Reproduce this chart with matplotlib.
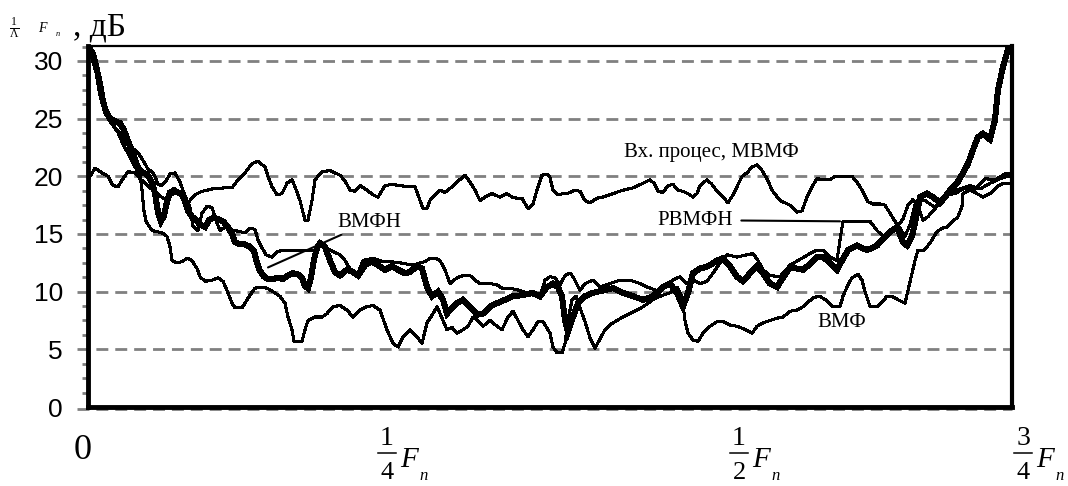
import numpy as np
import matplotlib
matplotlib.use("Agg")
import matplotlib.pyplot as plt
from matplotlib.transforms import blended_transform_factory

plt.rcParams['mathtext.fontset'] = 'custom'
plt.rcParams['mathtext.rm'] = 'Liberation Serif'
plt.rcParams['mathtext.it'] = 'Liberation Serif:italic'

# frequency bins (0 .. 924 across the shown band) and spectra, dB
# thick curve
t_bin = [0, 4, 7, 10, 12, 15, 18, 22, 27, 32, 36, 39, 42, 45, 48, 51, 55, 59, 62, 65, 67, 70, 73, 76,
         79, 82, 86, 90, 94, 97, 100, 104, 108, 112, 117, 121, 125, 130, 135, 140, 144, 147, 152, 157,
         162, 166, 169, 172, 176, 180, 185, 190, 195, 200, 205, 210, 214, 217, 220, 223, 226, 229, 232,
         237, 242, 247, 252, 259, 265, 270, 277, 284, 290, 297, 304, 310, 317, 322, 329, 334, 339, 344,
         350, 355, 359, 364, 369, 375, 382, 389, 395, 402, 409, 417, 425, 435, 445, 452, 459, 465, 470,
         474, 477, 480, 485, 490, 497, 505, 515, 525, 535, 545, 555, 565, 575, 582, 589, 595, 600, 605,
         612, 620, 629, 635, 642, 649, 655, 662, 669, 675, 682, 689, 695, 702, 709, 715, 722, 729, 735,
         742, 749, 754, 760, 769, 779, 789, 795, 802, 809, 815, 819, 824, 829, 832, 839, 845, 852, 857,
         862, 869, 875, 880, 885, 890, 895, 902, 907, 910, 915, 920, 924]
t_db = [31.2, 30.8, 30.0, 28.8, 28.0, 26.5, 25.6, 25.0, 24.8, 24.6, 24.0, 23.3, 22.6, 22.0, 21.2, 20.6,
        20.3, 20.2, 19.8, 19.2, 18.5, 16.9, 16.1, 16.6, 17.8, 18.6, 18.8, 18.6, 18.5, 17.8, 17.0, 16.5,
        16.2, 15.8, 15.6, 16.2, 16.4, 16.3, 16.1, 15.6, 15.0, 14.3, 14.1, 14.1, 13.9, 13.5, 12.5, 11.8,
        11.3, 11.1, 11.1, 11.2, 11.1, 11.4, 11.6, 11.5, 11.2, 10.5, 10.3, 11.2, 12.8, 13.8, 14.2, 13.9,
        12.7, 11.7, 11.4, 11.9, 11.7, 11.4, 12.3, 12.6, 12.3, 11.9, 12.2, 11.9, 11.6, 11.7, 12.2, 12.0,
        10.4, 9.6, 10.0, 9.3, 8.1, 8.6, 9.0, 9.3, 8.7, 8.0, 8.1, 8.7, 9.0, 9.3, 9.6, 9.7, 9.9, 9.6, 10.4,
        10.7, 10.4, 9.6, 7.5, 6.5, 7.8, 9.0, 9.6, 9.9, 10.1, 10.3, 9.9, 9.6, 9.3, 9.6, 10.4, 10.7, 9.9,
        8.7, 9.9, 11.6, 12.0, 12.2, 12.7, 12.9, 12.2, 11.3, 10.9, 11.6, 12.2, 11.6, 10.7, 10.4, 11.2,
        12.1, 12.0, 11.9, 12.4, 13.0, 13.0, 12.5, 11.9, 12.7, 13.6, 14.0, 13.6, 14.0, 14.6, 15.2, 15.6,
        14.3, 14.0, 14.8, 16.8, 18.2, 18.5, 18.2, 17.7, 18.2, 18.8, 19.4, 20.3, 21.1, 22.3, 23.4, 23.7,
        23.2, 24.9, 27.5, 29.5, 31.0, 31.3]

# "Вх. процес, МВМФ"
f_bin = [0, 7, 14, 20, 25, 30, 35, 40, 47, 52, 57, 62, 67, 72, 77, 82, 87, 92, 97, 100, 107, 114, 124,
         137, 144, 150, 157, 164, 170, 177, 180, 184, 189, 194, 199, 204, 207, 212, 217, 220, 224, 227,
         234, 242, 252, 257, 262, 267, 272, 279, 285, 290, 297, 304, 312, 319, 327, 332, 335, 339, 342,
         347, 352, 357, 364, 369, 377, 382, 387, 392, 397, 404, 412, 419, 424, 429, 434, 440, 445, 449,
         454, 459, 462, 465, 470, 475, 479, 487, 492, 497, 502, 509, 515, 525, 535, 545, 555, 562, 566,
         570, 575, 580, 585, 590, 595, 600, 605, 609, 612, 619, 624, 629, 635, 640, 645, 649, 654, 659,
         664, 669, 674, 679, 684, 692, 702, 709, 714, 719, 724, 729, 735, 742, 747, 752, 764, 769, 774,
         780, 785, 792, 797, 802, 807, 812, 817, 822, 827, 832, 837, 847, 857, 867, 877, 887, 897, 907,
         917, 924]
f_db = [19.7, 20.7, 20.3, 20.0, 19.2, 19.1, 19.8, 20.4, 20.3, 19.8, 19.4, 19.0, 18.7, 18.3, 18.0, 18.3,
        18.6, 18.4, 18.0, 17.7, 18.4, 18.7, 18.9, 19.0, 19.0, 19.7, 20.3, 21.1, 21.3, 20.8, 20.0, 19.1,
        18.4, 18.5, 19.4, 19.7, 19.1, 17.9, 16.2, 16.2, 17.9, 19.7, 20.4, 20.5, 20.1, 19.6, 18.8, 18.7,
        19.2, 18.8, 18.4, 18.2, 19.2, 19.3, 19.2, 19.1, 19.1, 17.9, 17.2, 17.2, 17.9, 18.4, 18.8, 18.6,
        19.1, 19.5, 20.1, 19.5, 18.8, 17.9, 18.2, 18.5, 18.2, 18.5, 18.2, 18.1, 18.1, 17.2, 17.6, 18.8,
        20.1, 20.2, 19.9, 18.8, 18.4, 18.5, 18.5, 18.8, 18.7, 17.9, 17.7, 18.1, 18.2, 18.5, 18.8, 19.0,
        19.4, 19.7, 19.4, 18.7, 18.6, 19.2, 19.3, 18.8, 18.7, 18.5, 18.2, 18.5, 19.2, 19.7, 19.3, 18.7,
        18.2, 17.7, 18.4, 19.1, 20.0, 20.3, 20.8, 21.0, 20.5, 19.8, 18.8, 17.9, 17.5, 16.9, 17.0, 18.2,
        19.1, 19.8, 19.7, 19.7, 20.0, 20.0, 20.0, 19.5, 18.8, 17.8, 17.6, 17.6, 17.5, 16.8, 16.1, 15.5,
        14.8, 15.8, 17.5, 17.9, 17.9, 17.3, 18.4, 18.5, 19.0, 18.9, 19.8, 19.7, 20.2, 20.3]

# ВМФН
m_bin = [0, 4, 8, 12, 16, 20, 24, 27, 32, 37, 42, 47, 52, 57, 60, 64, 67, 70, 74, 78, 82, 87, 92, 97,
         102, 105, 110, 114, 119, 124, 128, 132, 137, 142, 147, 152, 157, 162, 167, 170, 174, 178, 184,
         190, 197, 212, 227, 232, 242, 252, 257, 262, 267, 270, 275, 285, 295, 302, 312, 325, 332, 337,
         342, 347, 352, 357, 362, 369, 375, 382, 387, 392, 402, 409, 414, 422, 432, 439, 445, 452, 457,
         462, 467, 472, 477, 482, 485, 492, 497, 505, 512, 522, 532, 542, 552, 559, 569, 579, 585, 592,
         599, 605, 612, 619, 625, 632, 639, 649, 659, 665, 670, 675, 682, 692, 702, 712, 722, 729, 735,
         742, 749, 752, 755, 762, 772, 782, 789, 795, 802, 809, 815, 820, 825, 830, 835, 840, 847, 854,
         862, 872, 882, 892, 902, 912, 924]
m_db = [31.0, 30.5, 29.5, 27.5, 26.2, 25.4, 24.6, 24.2, 23.8, 23.0, 22.5, 22.3, 21.8, 21.1, 20.6, 20.4,
        20.0, 19.3, 19.2, 19.6, 20.2, 20.3, 19.5, 18.3, 17.3, 15.7, 15.3, 16.8, 17.4, 17.3, 16.2, 15.3,
        15.6, 15.4, 15.3, 15.2, 15.1, 15.5, 15.4, 14.5, 13.8, 13.2, 13.0, 13.5, 13.6, 13.6, 13.6, 14.3,
        13.6, 13.2, 12.7, 12.0, 11.4, 11.6, 12.7, 12.9, 12.6, 12.6, 12.5, 12.3, 12.5, 12.6, 12.9, 12.9,
        12.7, 11.9, 10.7, 11.2, 11.4, 11.4, 11.0, 10.7, 10.7, 10.6, 10.3, 10.3, 10.1, 9.9, 9.7, 9.6, 11.0,
        11.3, 11.2, 10.6, 11.4, 11.6, 11.3, 10.1, 10.7, 11.0, 10.4, 10.7, 11.0, 11.0, 10.7, 10.4, 10.1,
        10.7, 11.0, 11.3, 10.7, 11.0, 10.7, 10.9, 11.6, 12.5, 13.2, 13.0, 13.2, 13.3, 12.7, 11.9, 11.4,
        11.3, 12.3, 12.8, 13.3, 13.6, 13.6, 13.0, 12.7, 14.5, 16.1, 16.1, 16.1, 16.1, 15.3, 14.8, 15.1,
        15.6, 16.3, 17.5, 18.0, 17.4, 16.2, 16.5, 17.2, 18.0, 18.6, 18.9, 19.2, 18.9, 19.4, 19.8, 20.1]

# ВМФ
l_bin = [0, 4, 8, 12, 16, 20, 25, 30, 34, 38, 42, 47, 52, 54, 56, 58, 64, 74, 79, 82, 84, 89, 94, 99,
         104, 109, 112, 117, 124, 130, 135, 140, 144, 147, 154, 157, 162, 167, 172, 179, 185, 192, 197,
         200, 204, 206, 214, 217, 220, 227, 234, 239, 245, 252, 259, 265, 272, 279, 285, 292, 299, 305,
         310, 315, 322, 329, 334, 339, 345, 349, 354, 359, 364, 369, 375, 380, 385, 390, 395, 402, 409,
         414, 420, 425, 430, 435, 440, 445, 450, 455, 462, 465, 469, 474, 477, 480, 484, 488, 492, 497,
         502, 507, 512, 517, 523, 529, 535, 542, 549, 555, 565, 572, 582, 589, 594, 597, 600, 605, 610,
         615, 622, 629, 635, 642, 649, 655, 664, 669, 675, 682, 689, 695, 702, 709, 715, 720, 726, 732,
         739, 745, 752, 755, 760, 764, 770, 774, 777, 782, 789, 794, 799, 804, 810, 817, 820, 824, 827,
         830, 836, 842, 849, 854, 859, 865, 870, 874, 875, 882, 889, 895, 902, 909, 915, 924]
l_db = [31.0, 30.2, 29.0, 27.0, 25.8, 25.0, 24.4, 23.8, 23.0, 22.3, 21.7, 20.8, 20.2, 18.8, 17.0, 16.1,
        15.3, 15.1, 14.8, 13.9, 12.7, 12.5, 12.6, 12.9, 12.7, 12.0, 11.3, 10.9, 11.0, 11.2, 10.9, 9.9,
        9.0, 8.6, 8.6, 9.0, 9.7, 10.3, 10.4, 10.3, 10.0, 9.6, 9.0, 7.8, 6.7, 5.7, 5.7, 6.7, 7.5, 7.8,
        7.8, 8.1, 8.7, 8.8, 8.4, 7.8, 8.4, 8.7, 8.8, 8.4, 6.7, 5.5, 5.2, 6.1, 6.7, 6.1, 5.5, 7.3, 8.1,
        8.7, 7.7, 6.7, 6.9, 6.4, 6.7, 7.0, 7.8, 7.5, 7.0, 7.5, 7.0, 6.7, 7.8, 8.3, 7.5, 6.7, 6.1, 6.7,
        7.4, 7.4, 6.4, 5.2, 4.7, 4.7, 5.5, 7.5, 9.3, 9.6, 8.6, 7.4, 6.0, 5.1, 5.9, 6.7, 7.2, 7.5, 7.8,
        8.1, 8.4, 8.7, 9.3, 9.6, 9.9, 10.4, 9.6, 7.5, 6.4, 5.8, 5.7, 6.4, 7.0, 7.4, 7.4, 7.1, 7.0, 6.8,
        6.4, 7.0, 7.3, 7.5, 7.7, 7.8, 8.3, 8.4, 8.7, 9.1, 9.5, 9.6, 9.2, 8.7, 8.7, 9.6, 10.6, 11.2, 11.5,
        11.0, 10.0, 8.7, 8.7, 9.1, 9.6, 9.6, 9.3, 9.0, 10.1, 11.6, 12.7, 13.6, 13.6, 14.2, 15.2, 15.5,
        15.6, 16.1, 16.5, 17.4, 18.5, 18.8, 18.5, 18.2, 18.5, 19.1, 19.4, 19.4]

y_ticks = [0, 5, 10, 15, 20, 25, 30]
# x labels: "0" plus fractions of F_n (numerator, denominator), hand placed under the axis
zero_bin = -5
frac_bins = [299, 651, 935]
frac_num = ['1', '1', '3']
frac_den = ['4', '2', '4']

W, H = 1068, 486
fig = plt.figure(figsize=(W / 100, H / 100), dpi=100)
ax = fig.add_axes([88 / W, 1 - 407 / H, 924 / W, 361 / H])
ax.set_xlim(0, 924)
ax.set_ylim(0, 31.3)

grey = '#808080'
for v in y_ticks:
    ax.plot([-11, 924], [v - (0.15 if v == 0 else 0)] * 2, color=grey, lw=2.0,
            ls=(0, (4.3, 2.5)), clip_on=False, zorder=1)

thin = dict(color='black', lw=1.5, antialiased=False, zorder=3)
ax.plot(f_bin, f_db, **thin)
ax.plot(m_bin, m_db, **thin)
ax.plot(l_bin, l_db, **thin)
ax.plot(t_bin, t_db, color='black', lw=3.6, antialiased=False, zorder=4,
        solid_joinstyle='miter')

for side, lw in [('left', 3.5), ('right', 3.0), ('bottom', 3.5), ('top', 1.6)]:
    ax.spines[side].set_linewidth(lw)
    ax.spines[side].set_zorder(5)

ax.set_yticks(y_ticks)
ax.set_yticks(np.arange(0, 31.3, 1.25), minor=True)
ax.tick_params(axis='y', which='major', length=0, pad=18, labelsize=19)
ax.tick_params(axis='y', which='minor', length=4, width=2, color=grey)
for lab in ax.get_yticklabels():
    lab.set_fontfamily('Liberation Sans')
ax.set_xticks([])

# x tick labels
tr = blended_transform_factory(ax.transData, fig.transFigure)
fy = lambda py: 1 - py / H
ax.text(zero_bin, fy(450), '0', transform=tr, ha='center', va='center',
        family='Liberation Serif', fontsize=26)
for xb, num, den in zip(frac_bins, frac_num, frac_den):
    ax.text(xb, fy(438), num, transform=tr, ha='center', va='center',
            family='Liberation Serif', fontsize=20)
    ax.text(xb, fy(473), den, transform=tr, ha='center', va='center',
            family='Liberation Serif', fontsize=19)
    ax.plot([xb - 9, xb + 9], [fy(453)] * 2, transform=tr, color='black', lw=1.1, clip_on=False)
    ax.text(xb + 13, fy(460), 'F', transform=tr, ha='left', va='center',
            family='Liberation Serif', style='italic', fontsize=21)
    ax.text(xb + 32, fy(476), 'n', transform=tr, ha='left', va='center',
            family='Liberation Serif', style='italic', fontsize=12)

# curve labels
serif = dict(family='Liberation Serif', fontsize=15)
ax.annotate('ВМФН', xy=(180, 12.1), xytext=(249, 16.0), ha='left', va='center',
            arrowprops=dict(arrowstyle='-', color='black', lw=1.5, shrinkA=0, shrinkB=0), **serif)
ax.text(623, 22.1, 'Вх. процес, МВМФ', ha='center', va='center', **serif)
ax.annotate('РВМФН', xy=(752, 16.1), xytext=(645, 16.2), ha='right', va='center',
            arrowprops=dict(arrowstyle='-', color='black', lw=1.5, shrinkA=4, shrinkB=0), **serif)
ax.text(754, 7.3, 'ВМФ', ha='center', va='center', **serif)

# y axis caption
fig.text(14 / W, fy(28), r'$\frac{1}{\mathit{\Lambda}}$', fontsize=12, ha='center', va='center')
fig.text(42 / W, fy(29), 'F', family='Liberation Serif', style='italic', fontsize=10,
         ha='center', va='center')
fig.text(58 / W, fy(34), 'n', family='Liberation Serif', style='italic', fontsize=6,
         ha='center', va='center')
fig.text(73 / W, fy(27), ', дБ', fontsize=24, family='Liberation Serif', ha='left', va='center')

fig.savefig('out.png', dpi=100)
